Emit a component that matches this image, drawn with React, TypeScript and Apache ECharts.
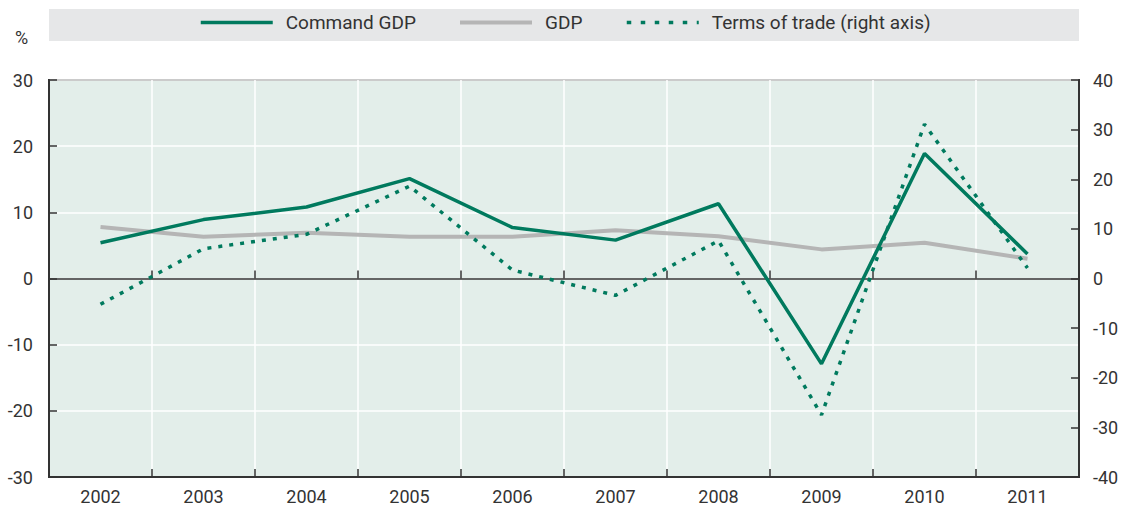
import React, { useEffect, useRef } from "react";
import * as echarts from "echarts";

const years = ["2002", "2003", "2004", "2005", "2006", "2007", "2008", "2009", "2010", "2011"];
const commandGdp = [5.4, 8.9, 10.8, 15.1, 7.7, 5.8, 11.3, -12.9, 18.9, 3.7];
const gdp = [7.8, 6.3, 6.9, 6.3, 6.3, 7.3, 6.4, 4.4, 5.4, 3.0];
const termsOfTrade = [-5.2, 6.0, 8.9, 18.6, 1.7, -3.4, 7.6, -27.5, 31.1, 2.1];

const FONT = "Roboto, 'Liberation Sans', sans-serif";
const TEXT = "#333333";
const GREEN = "#007a5e";
const GREY = "#b5b5b5";

export default function App() {
  const ref = useRef<HTMLDivElement>(null);
  useEffect(() => {
    if (!ref.current) return;
    const chart = echarts.init(ref.current, undefined, { renderer: "svg" });
    const legendBase = {
      top: 8,
      itemWidth: 72,
      itemHeight: 20,
      z: 10,
      itemStyle: { opacity: 0, borderWidth: 0 },
      textStyle: { fontFamily: FONT, fontSize: 19, color: TEXT, padding: [0, 0, 0, 8] },
    };
    chart.setOption({
      animation: false,
      textStyle: { fontFamily: FONT, color: TEXT },
      graphic: [
        { type: "rect", z: 0, shape: { x: 49, y: 9, width: 1030, height: 32 }, style: { fill: "#e6e7e8" } },
        { type: "text", z: 1, left: 15, top: 28, style: { text: "%", fontFamily: FONT, fontSize: 18, fill: TEXT } },
      ],
      legend: [
        { ...legendBase, left: 194, data: ["Command GDP"], lineStyle: { width: 3.5 } },
        { ...legendBase, left: 453, data: ["GDP"], lineStyle: { width: 4 } },
        { ...legendBase, left: 620, data: ["Terms of trade (right axis)"], lineStyle: { width: 3.5, type: [4.5, 9.5] } },
      ],
      grid: {
        left: 49,
        right: 43,
        top: 80,
        bottom: 31,
        show: true,
        backgroundColor: "#e3eeea",
        borderColor: "#333333",
        borderWidth: 2,
      },
      xAxis: [
        {
          type: "category",
          data: years,
          position: "bottom",
          boundaryGap: true,
          axisLine: { onZero: false, lineStyle: { color: "#333333", width: 2 } },
          axisTick: { show: true, inside: true, length: 8, lineStyle: { color: "#333333", width: 1.5 } },
          axisLabel: { fontFamily: FONT, fontSize: 18, color: TEXT, margin: 10 },
          splitLine: { show: true, lineStyle: { color: "#ffffff", width: 1.5 } },
        },
        {
          type: "category",
          data: years,
          position: "bottom",
          boundaryGap: true,
          axisLine: { onZero: true, onZeroAxisIndex: 0, lineStyle: { color: "#333333", width: 1.5 } },
          axisTick: { show: true, inside: true, length: 8, lineStyle: { color: "#333333", width: 1.5 } },
          axisLabel: { show: false },
          splitLine: { show: false },
        },
      ],
      yAxis: [
        {
          type: "value",
          min: -30,
          max: 30,
          interval: 10,
          position: "left",
          axisLine: { show: true, lineStyle: { color: "#333333", width: 2 } },
          axisTick: { show: true, inside: true, length: 8, lineStyle: { color: "#333333", width: 1.5 } },
          axisLabel: { fontFamily: FONT, fontSize: 18, color: TEXT, margin: 16 },
          splitLine: { show: true, lineStyle: { color: "#ffffff", width: 1.5 } },
        },
        {
          type: "value",
          min: -40,
          max: 40,
          interval: 10,
          position: "right",
          axisLine: { show: true, lineStyle: { color: "#333333", width: 2 } },
          axisTick: { show: true, inside: true, length: 8, lineStyle: { color: "#333333", width: 1.5 } },
          axisLabel: { fontFamily: FONT, fontSize: 18, color: TEXT, margin: 14 },
          splitLine: { show: false },
        },
      ],
      series: [
        {
          name: "Command GDP",
          type: "line",
          data: commandGdp,
          symbol: "none",
          z: 4,
          lineStyle: { color: GREEN, width: 3.5 },
          itemStyle: { color: GREEN },
        },
        {
          name: "GDP",
          type: "line",
          data: gdp,
          symbol: "none",
          z: 3,
          lineStyle: { color: GREY, width: 4 },
          itemStyle: { color: GREY },
        },
        {
          name: "Terms of trade (right axis)",
          type: "line",
          yAxisIndex: 1,
          data: termsOfTrade,
          symbol: "none",
          z: 5,
          lineStyle: { color: GREEN, width: 3.5, type: [4, 7] },
          itemStyle: { color: GREEN },
        },
      ],
    });
    return () => chart.dispose();
  }, []);
  return (
    <div
      ref={ref}
      style={{ position: "fixed", left: 0, top: 0, width: 1122, height: 508, background: "#ffffff" }}
    />
  );
}
